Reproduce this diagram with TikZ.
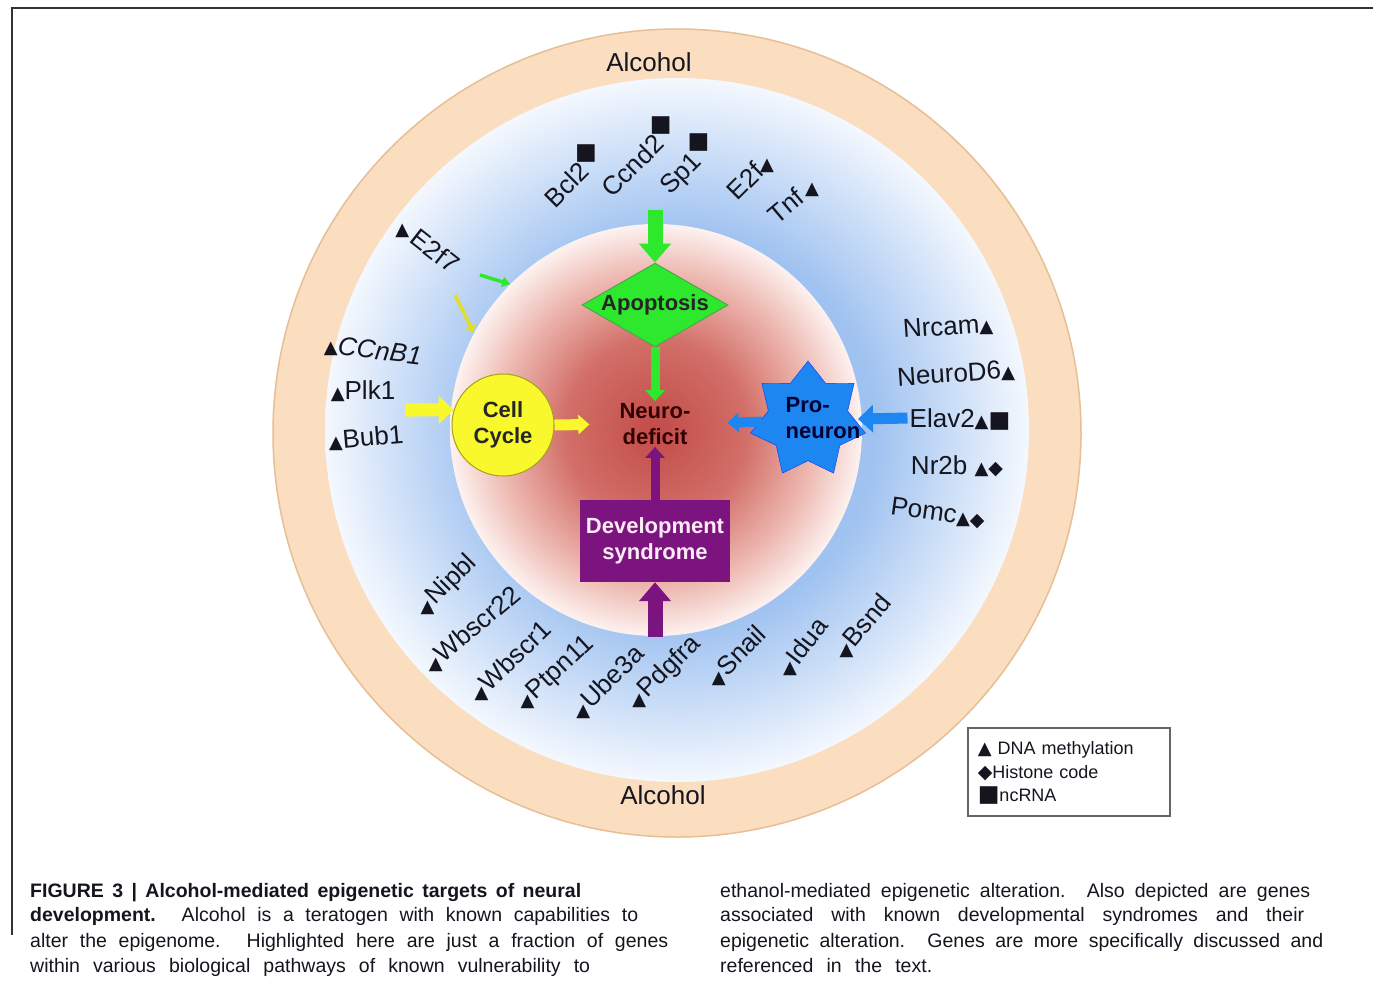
\documentclass[tikz,border=0pt]{standalone}
\usepackage{fontspec}
\setmainfont{Liberation Sans}
\newfontfamily\markfont{DejaVu Sans}
\usetikzlibrary{shapes.geometric,arrows.meta}

\definecolor{peach}{HTML}{FBDDBF}
\definecolor{peachedge}{HTML}{E6BF96}
\definecolor{ringblue}{HTML}{9FC2F0}
\definecolor{ringwhite}{HTML}{F4F8FE}
\definecolor{coredark}{HTML}{C24B49}
\definecolor{coremid}{HTML}{D26F68}
\definecolor{corelight}{HTML}{EDB7AF}
\definecolor{coreedge}{HTML}{FDF2F0}
\definecolor{apogreen}{HTML}{2EE82E}
\definecolor{cellyellow}{HTML}{F8F82C}
\definecolor{starblue}{HTML}{1E86F0}
\definecolor{devpurple}{HTML}{7C1480}
\definecolor{ink}{HTML}{15151F}

\pgfdeclareradialshading{blueglow}{\pgfpoint{0bp}{0bp}}{color(0bp)=(ringblue); color(14bp)=(ringblue); color(25bp)=(ringwhite); color(50bp)=(ringwhite)}
\pgfdeclareradialshading{redcore}{\pgfpoint{0bp}{0bp}}{color(0bp)=(coredark); color(11bp)=(coremid); color(19bp)=(corelight); color(25bp)=(coreedge); color(50bp)=(coreedge)}

% marks stay upright inside rotated gene labels
\def\generot{0}
\newsavebox\markbox
\newcommand\upright[1]{\sbox\markbox{#1}\makebox[\wd\markbox]{\smash{\rotatebox[origin=c]{\generot}{\usebox\markbox}}}}
\newcommand\methyl{\upright{\markfont\fontsize{18}{18}\selectfont ▲}}
\newcommand\histone{\upright{\markfont\fontsize{19}{19}\selectfont ◆}}
\newcommand\ncrna{\upright{\markfont\fontsize{23}{23}\selectfont ■}}
\newcommand\ncrnaup{\raisebox{0.45em}{\ncrna}}

\tikzset{
  gene/.style={rotate=#1, font=\fontsize{26}{28}\selectfont, text=ink, inner sep=0pt,
    /utils/exec={\pgfmathsetmacro\generot{-(#1)}}},
  gene/.default=0,
  hub/.style={font=\bfseries\fontsize{22}{26}\selectfont, align=center, inner sep=2pt},
  caption/.style={anchor=base west, inner sep=0pt, font=\fontsize{19.5}{22}\selectfont, text=ink},
  bigarrow/.style={line width=15pt, -{Triangle[width=31pt,length=19pt]}},
  midarrow/.style={line width=13pt, -{Triangle[width=27pt,length=15pt]}},
  smallarrow/.style={line width=9pt, -{Triangle[width=19pt,length=11pt]}},
  thinarrow/.style={line width=3.5pt, -{Triangle[width=10pt,length=8pt]}}
}

\begin{document}
\begin{tikzpicture}[x=1pt,y=-1pt]
\useasboundingbox (0,0) rectangle (1373,986);
\fill[white] (0,0) rectangle (1373,986);
\draw[line width=2pt, black!80] (12,935) -- (12,8) -- (1373,8);

% rings
\fill[peach, draw=peachedge, line width=1.5pt] (677,433) circle (404pt);
\shade[shading=blueglow] (677,430) circle (352pt);
\node[circle, shade, shading=redcore, minimum size=412pt, inner sep=0pt] (core) at (656,430) {};

\node[gene] (alctop) at (649,62) {Alcohol};
\node[gene] (alcbot) at (663,795) {Alcohol};

% pathways
\node[diamond, aspect=1.7, minimum width=146pt, inner sep=0pt, fill=apogreen, draw=green!50!black!70, line width=1pt,
  font=\bfseries\fontsize{22}{26}\selectfont, text=black!85] (apop) at (655,305) {Apoptosis};
\node[circle, minimum size=102pt, inner sep=0pt, fill=cellyellow, draw=olive!80, line width=1pt, hub, text=black!85] (cell) at (503,425) {Cell\\Cycle};
\node[hub, text=black!80!red] (neuro) at (655,424) {Neuro-\\deficit};
\node[star, star points=7, star point ratio=1.45, minimum size=118pt, inner sep=0pt, fill=starblue, draw=blue!60!starblue] (pro) at (808,420) {};
\node[hub, align=left, text=blue!20!black] (protxt) at (823,418) {Pro-\\neuron};
\node[fill=devpurple, minimum width=150pt, minimum height=82pt, hub, text=white!92!magenta] (dev) at (655,541) {Development\\syndrome};

% genes
\node[gene=45] (bcl2) at (574,177) {Bcl2\ncrnaup};
\node[gene=45] (ccnd2) at (640,158) {Ccnd2\ncrnaup};
\node[gene=45] (sp1) at (690,167) {Sp1\ncrnaup};
\node[gene=45] (e2f) at (750,176) {E2f\methyl};
\node[gene=40] (tnf) at (793,200) {Tnf\,\methyl};
\node[gene=-38] (e2f7) at (428,245) {\methyl\,E2f7};
\node[gene=-7] (ccnb1) at (373,350) {\methyl\textit{CCnB1}};
\node[gene] (plk1) at (363,390) {\methyl Plk1};
\node[gene=5] (bub1) at (366,437) {\methyl Bub1};
\node[gene=4] (nrcam) at (948,326) {Nrcam\methyl};
\node[gene=4] (neurod6) at (956,373) {NeuroD6\methyl};
\node[gene] (elav2) at (960,418) {Elav2\methyl\ncrna};
\node[gene] (nr2b) at (957,465) {Nr2b \methyl\histone};
\node[gene=-8] (pomc) at (938,512) {Pomc\methyl\histone};
\node[gene=45] (nipbl) at (447,585) {\methyl Nipbl};
\node[gene=40] (wbscr22) at (472,628) {\methyl Wbscr22};
\node[gene=44] (wbscr1) at (510,660) {\methyl Wbscr1};
\node[gene=43] (ptpn11) at (556,673) {\methyl Ptpn11};
\node[gene=45] (ube3a) at (607,681) {\methyl Ube3a};
\node[gene=45] (pdgfra) at (665,672) {\methyl Pdgfra};
\node[gene=45] (snail) at (736,655) {\methyl Snail};
\node[gene=52] (idua) at (802,646) {\methyl Idua};
\node[gene=50] (bsnd) at (862,625) {\methyl Bsnd};

% arrows
\coordinate (apoin) at (655,210);
\coordinate (greenin) at (480,275);
\coordinate (yellowin) at (455,295);
\coordinate (cellin) at (405,410);
\coordinate (devin) at (655,637);
\draw[bigarrow, apogreen] (apoin) -- (apop.north);
\draw[smallarrow, apogreen] (apop.south) -- (neuro.north);
\draw[thinarrow, apogreen] (greenin) -- (core.135);
\draw[thinarrow, cellyellow!90!black] (yellowin) -- (core.152);
\draw[midarrow, cellyellow] (cellin) -- (cell.163);
\draw[smallarrow, line width=11pt, cellyellow] (cell.east) -- (neuro.west) [shorten >=28pt];
\draw[midarrow, line width=11pt, starblue] (elav2.west) -- (pro.center) [shorten <=2pt, shorten >=50pt];
\draw[smallarrow, line width=10pt, starblue] (pro.center) -- (neuro.east) [shorten <=46pt, shorten >=35pt];
\draw[bigarrow, devpurple] (devin) -- (dev.south);
\draw[smallarrow, devpurple] (dev.north) -- (neuro.south);

% legend
\node[draw=black!60, line width=1.5pt, anchor=north west, minimum width=202pt, minimum height=88pt,
  text width=182pt, inner xsep=10pt, align=left, font=\fontsize{18}{23.5}\selectfont, text=ink] (legend) at (967,727)
  {\methyl\ DNA methylation\\\histone Histone code\\\ncrna ncRNA};

% caption
\node[caption] (capa) at (30,897) {\makebox[551pt][s]{\bfseries FIGURE 3 | Alcohol-mediated epigenetic targets of neural}};
\node[caption] (capb) at (30,921) {\makebox[608pt][s]{\textbf{development.} Alcohol is a teratogen with known capabilities to}};
\node[caption] (capc) at (30,947) {\makebox[638pt][s]{alter the epigenome. Highlighted here are just a fraction of genes}};
\node[caption] (capd) at (30,972) {\makebox[560pt][s]{within various biological pathways of known vulnerability to}};
\node[caption] (cape) at (720,897) {\makebox[590pt][s]{ethanol-mediated epigenetic alteration. Also depicted are genes}};
\node[caption] (capf) at (720,921) {\makebox[584pt][s]{associated with known developmental syndromes and their}};
\node[caption] (capg) at (720,947) {\makebox[603pt][s]{epigenetic alteration. Genes are more specifically discussed and}};
\node[caption] (caph) at (720,972) {\makebox[212pt][s]{referenced in the text.}};
\end{tikzpicture}
\end{document}
